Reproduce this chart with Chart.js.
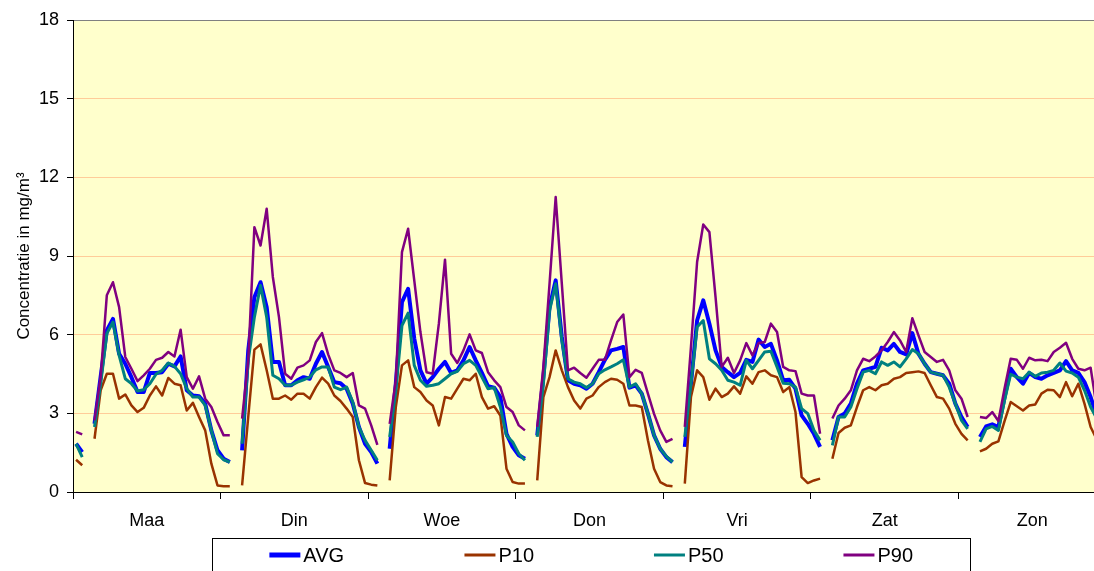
<!DOCTYPE html>
<html>
<head>
<meta charset="utf-8">
<script src="https://cdn.jsdelivr.net/npm/chart.js@4.4.0/dist/chart.umd.min.js"></script>
<style>
html, body { margin: 0; padding: 0; background: #fff; overflow: hidden; }
#wrap { position: absolute; left: 0; top: 0; width: 1106px; height: 571px; }
</style>
</head>
<body>
<div id="wrap"><canvas id="chart" width="1106" height="571"></canvas></div>
<script>
// days of the week, 24 hourly values per day (hour 2 has no data)
const days = ['Maa', 'Din', 'Woe', 'Don', 'Vri', 'Zat', 'Zon'];
const yTicks = [0, 3, 6, 9, 12, 15, 18];

const avg = [
  1.84, 1.52, null, 2.6, 4.4, 6.16, 6.6, 5.27, 4.89, 4.38, 3.81, 3.81, 4.54, 4.54, 4.57, 4.89, 4.79, 5.17, 3.88, 3.68, 3.65, 3.37, 2.35, 1.59,
  1.27, 1.14, null, 1.59, 5.4, 7.43, 8.0, 7.05, 4.96, 4.96, 4.07, 4.07, 4.26, 4.38, 4.32, 4.89, 5.34, 4.77, 4.19, 4.15, 3.94, 3.37, 2.48, 1.84,
  1.52, 1.08, null, 1.65, 4.13, 7.24, 7.75, 5.85, 4.64, 4.13, 4.38, 4.7, 4.96, 4.54, 4.64, 5.02, 5.53, 5.02, 4.54, 4.03, 3.98, 3.62, 2.22, 1.72,
  1.4, 1.27, null, 2.16, 4.38, 7.05, 8.07, 5.91, 4.26, 4.13, 4.07, 3.94, 4.13, 4.57, 5.04, 5.4, 5.46, 5.53, 3.98, 4.07, 3.75, 2.99, 2.16, 1.65,
  1.33, 1.14, null, 1.72, 4.13, 6.54, 7.31, 6.42, 5.4, 4.77, 4.57, 4.38, 4.54, 5.04, 4.96, 5.81, 5.53, 5.65, 5.02, 4.26, 4.28, 3.94, 2.92, 2.6,
  2.22, 1.72, null, 1.97, 2.86, 2.99, 3.37, 4.13, 4.64, 4.7, 4.77, 5.5, 5.4, 5.65, 5.34, 5.25, 6.06, 5.27, 4.89, 4.57, 4.51, 4.45, 4.13, 3.37,
  2.86, 2.48, null, 2.1, 2.5, 2.58, 2.48, 3.6, 4.7, 4.38, 4.13, 4.54, 4.38, 4.32, 4.45, 4.54, 4.64, 4.99, 4.64, 4.54, 4.19, 3.62, 2.9, 2.4
];

const p10 = [
  1.23, 1.02, null, 2.03, 3.88, 4.51, 4.51, 3.56, 3.72, 3.3, 3.05, 3.21, 3.68, 4.03, 3.68, 4.35, 4.13, 4.07, 3.11, 3.4, 2.86, 2.35, 1.08, 0.25,
  0.22, 0.22, null, 0.25, 2.86, 5.43, 5.63, 4.64, 3.56, 3.56, 3.68, 3.52, 3.75, 3.75, 3.56, 4.0, 4.36, 4.13, 3.68, 3.47, 3.18, 2.86, 1.21, 0.34,
  0.28, 0.25, null, 0.44, 3.24, 4.83, 5.02, 4.0, 3.81, 3.49, 3.3, 2.54, 3.62, 3.56, 3.94, 4.32, 4.26, 4.51, 3.62, 3.18, 3.27, 2.92, 0.89, 0.38,
  0.32, 0.32, null, 0.44, 3.62, 4.38, 5.4, 4.64, 4.0, 3.49, 3.18, 3.56, 3.68, 4.0, 4.19, 4.32, 4.28, 4.13, 3.3, 3.3, 3.24, 1.97, 0.89, 0.38,
  0.25, 0.22, null, 0.32, 3.62, 4.64, 4.38, 3.52, 3.94, 3.62, 3.75, 4.03, 3.75, 4.41, 4.13, 4.57, 4.64, 4.45, 4.38, 3.81, 4.0, 3.05, 0.57, 0.34,
  0.44, 0.51, null, 1.27, 2.25, 2.45, 2.54, 3.24, 3.88, 4.0, 3.88, 4.07, 4.13, 4.32, 4.38, 4.54, 4.57, 4.6, 4.54, 4.07, 3.62, 3.56, 3.18, 2.6,
  2.22, 1.97, null, 1.55, 1.65, 1.84, 1.93, 2.7, 3.43, 3.27, 3.11, 3.3, 3.34, 3.75, 3.9, 3.88, 3.62, 4.19, 3.65, 4.13, 3.37, 2.48, 2.0, 1.6
];

const p50 = [
  1.84, 1.33, null, 2.48, 4.13, 6.04, 6.48, 5.21, 4.32, 4.13, 3.85, 3.9, 4.13, 4.49, 4.64, 4.92, 4.79, 4.51, 3.94, 3.62, 3.62, 3.3, 2.35, 1.46,
  1.23, 1.14, null, 1.84, 5.02, 6.67, 7.88, 6.67, 4.45, 4.32, 4.07, 4.07, 4.19, 4.28, 4.38, 4.66, 4.77, 4.77, 4.0, 3.9, 4.0, 3.43, 2.48, 1.97,
  1.59, 1.21, null, 2.1, 3.88, 6.35, 6.82, 4.83, 4.26, 4.03, 4.07, 4.13, 4.32, 4.51, 4.6, 4.89, 5.02, 4.83, 4.38, 3.94, 3.98, 3.24, 2.16, 1.91,
  1.46, 1.21, null, 2.1, 4.13, 6.92, 7.94, 5.78, 4.32, 4.19, 4.13, 3.98, 4.13, 4.51, 4.66, 4.77, 4.89, 5.04, 4.0, 4.13, 3.75, 2.99, 2.16, 1.65,
  1.36, 1.14, null, 2.1, 4.13, 6.29, 6.54, 5.08, 4.89, 4.64, 4.26, 4.19, 4.07, 5.02, 4.7, 5.02, 5.34, 5.37, 4.77, 4.15, 4.13, 4.0, 3.18, 2.99,
  2.35, 1.97, null, 1.78, 2.86, 2.86, 3.24, 3.94, 4.57, 4.64, 4.51, 4.96, 4.83, 4.96, 4.77, 5.08, 5.43, 5.27, 4.89, 4.57, 4.51, 4.45, 4.0, 3.37,
  2.73, 2.41, null, 1.91, 2.41, 2.5, 2.35, 3.5, 4.49, 4.38, 4.32, 4.57, 4.41, 4.54, 4.57, 4.64, 4.92, 4.61, 4.54, 4.38, 3.88, 3.24, 2.8, 2.3
];

const p90 = [
  2.29, 2.2, null, 2.73, 4.4, 7.5, 8.0, 7.05, 5.15, 4.7, 4.23, 4.45, 4.7, 5.04, 5.12, 5.34, 5.17, 6.19, 4.38, 3.94, 4.41, 3.56, 3.24, 2.67,
  2.16, 2.16, null, 2.8, 5.02, 10.1, 9.4, 10.8, 8.2, 6.67, 4.51, 4.32, 4.74, 4.83, 5.02, 5.72, 6.06, 5.25, 4.64, 4.54, 4.38, 4.54, 3.3, 3.18,
  2.54, 1.8, null, 2.6, 4.26, 9.15, 10.04, 8.07, 6.1, 4.57, 4.51, 6.42, 8.86, 5.27, 4.92, 5.4, 6.01, 5.4, 5.3, 4.57, 4.26, 4.0, 3.24, 3.05,
  2.54, 2.35, null, 2.48, 4.77, 7.94, 11.25, 7.94, 4.64, 4.74, 4.54, 4.36, 4.7, 5.04, 5.04, 5.78, 6.48, 6.77, 4.38, 4.66, 4.54, 3.75, 2.98, 2.35,
  1.91, 2.03, null, 2.48, 5.53, 8.77, 10.2, 9.91, 7.43, 4.77, 5.12, 4.54, 5.02, 5.68, 5.21, 5.68, 5.72, 6.42, 6.1, 4.77, 4.64, 4.61, 3.75, 3.68,
  3.68, 2.22, null, 2.8, 3.3, 3.56, 3.88, 4.64, 5.08, 4.99, 5.17, 5.4, 5.72, 6.1, 5.78, 5.34, 6.63, 5.97, 5.34, 5.15, 4.96, 5.04, 4.64, 3.88,
  3.56, 2.86, null, 2.86, 2.82, 3.05, 2.71, 3.95, 5.08, 5.04, 4.7, 5.12, 5.02, 5.04, 4.99, 5.34, 5.5, 5.69, 5.08, 4.7, 4.64, 4.74, 3.2, 2.6
];

const FONT = "'Liberation Sans', Arial, sans-serif";

// put every value in the middle of its hour slot on a 0..168 axis
function toPoints(values) {
  return values.map((v, i) => ({ x: i + 0.5, y: v }));
}

const plotBackground = {
  id: 'plotBackground',
  beforeDraw(chart) {
    const { ctx, chartArea: a } = chart;
    ctx.save();
    ctx.fillStyle = '#FFFFCC';
    ctx.fillRect(a.left, a.top, a.right - a.left, a.bottom - a.top);
    ctx.restore();
  }
};

// legend in a framed box under the axis
const boxLegend = {
  id: 'boxLegend',
  afterDraw(chart) {
    const ctx = chart.ctx;
    const left = 212, right = 970, top = 538, midY = 555;
    ctx.save();
    ctx.strokeStyle = '#000';
    ctx.lineWidth = 1;
    ctx.strokeRect(left + 0.5, top + 0.5, right - left, 60);
    ctx.font = '20px ' + FONT;
    ctx.textBaseline = 'middle';
    const sets = chart.data.datasets;
    const slot = (right - left) / sets.length;
    sets.forEach((ds, i) => {
      const lineLen = 31;
      const textW = ctx.measureText(ds.label).width;
      const x0 = left + i * slot + (slot - lineLen - 3 - textW) / 2 + (i ? 3 : 0);
      ctx.strokeStyle = ds.borderColor;
      ctx.lineWidth = ds.legendWidth;
      ctx.beginPath();
      ctx.moveTo(x0, midY);
      ctx.lineTo(x0 + lineLen, midY);
      ctx.stroke();
      ctx.fillStyle = '#000';
      ctx.fillText(ds.label, x0 + lineLen + 3, midY + 1);
    });
    ctx.restore();
  }
};

const ctx = document.getElementById('chart').getContext('2d');
new Chart(ctx, {
  type: 'line',
  data: {
    datasets: [
      { label: 'AVG', data: toPoints(avg), borderColor: '#0000FF', borderWidth: 4, legendWidth: 5, order: 4 },
      { label: 'P10', data: toPoints(p10), borderColor: '#993300', borderWidth: 2.5, legendWidth: 3, order: 3 },
      { label: 'P50', data: toPoints(p50), borderColor: '#008080', borderWidth: 3, legendWidth: 3, order: 2 },
      { label: 'P90', data: toPoints(p90), borderColor: '#800080', borderWidth: 2.5, legendWidth: 3, order: 1 }
    ]
  },
  options: {
    responsive: false,
    animation: false,
    devicePixelRatio: 1,
    layout: { padding: { top: 20, right: 0, bottom: 44, left: 0 } },
    elements: {
      point: { radius: 0 },
      line: { tension: 0, borderJoinStyle: 'round', fill: false }
    },
    plugins: {
      legend: { display: false },
      tooltip: { enabled: false }
    },
    scales: {
      x: {
        type: 'linear',
        min: 0,
        max: days.length * 24,
        display: false
      },
      days: {
        type: 'category',
        axis: 'x',
        position: 'bottom',
        labels: days,
        offset: true,
        grid: { offset: true, drawOnChartArea: false, tickLength: 7, color: '#000', tickColor: '#000' },
        border: { color: '#000', width: 1 },
        ticks: { font: { family: FONT, size: 18 }, color: '#000', padding: 11, maxRotation: 0, autoSkip: false },
        afterFit(scale) { scale.height = 35; }
      },
      y: {
        min: 0,
        max: 18,
        afterBuildTicks(scale) { scale.ticks = yTicks.map(v => ({ value: v })); },
        grid: {
          color: (c) => (c.tick && c.tick.value === 18 ? '#808080' : (c.tick && c.tick.value === 0 ? '#000' : '#FFCC99')),
          tickColor: '#000',
          tickLength: 6
        },
        border: { color: '#000', width: 1 },
        ticks: { font: { family: FONT, size: 18 }, color: '#000', padding: 8 },
        title: {
          display: true,
          text: 'Concentratie in mg/m³',
          font: { family: FONT, size: 17 },
          color: '#000',
          padding: { top: 14, bottom: 0 }
        },
        afterFit(scale) { scale.width = 73; }
      }
    }
  },
  plugins: [plotBackground, boxLegend]
});
</script>
</body>
</html>
